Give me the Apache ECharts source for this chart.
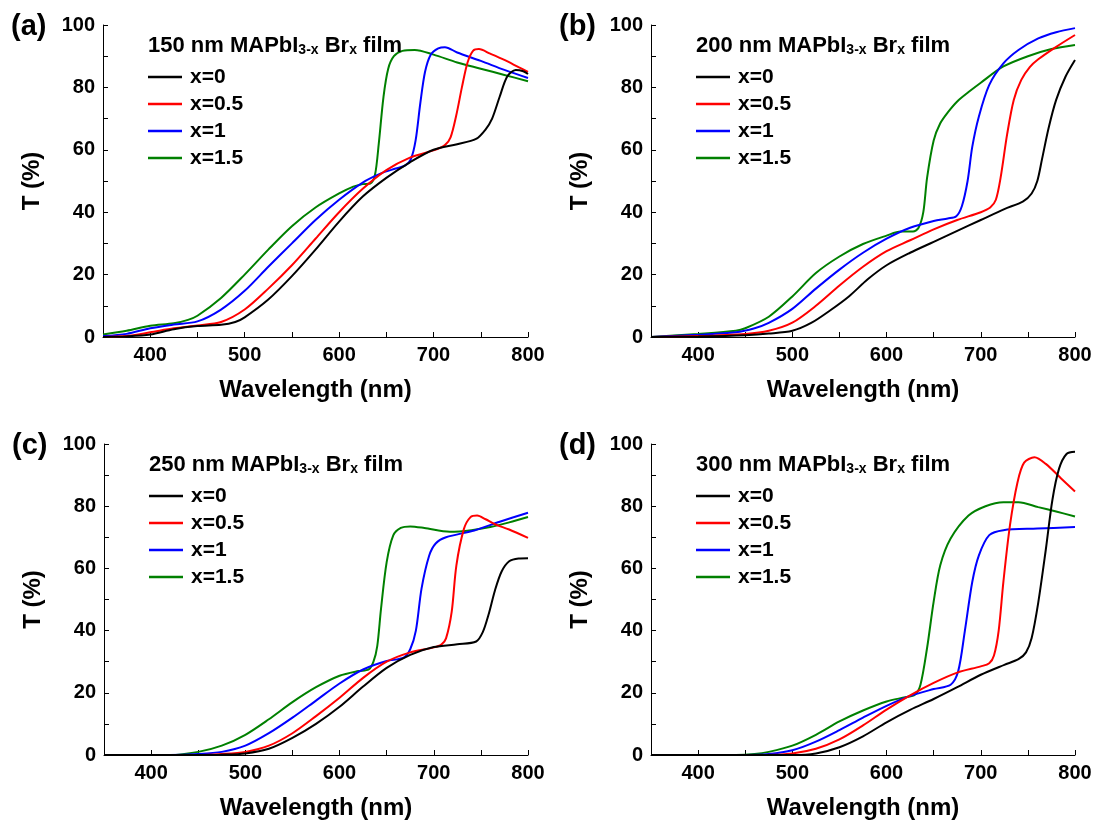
<!DOCTYPE html>
<html>
<head>
<meta charset="utf-8">
<script src="https://cdn.jsdelivr.net/npm/echarts@6/dist/echarts.min.js"></script>
<style>
html,body{margin:0;padding:0;background:#fff;}
#chart{width:1097px;height:827px;}
</style>
</head>
<body>
<div id="chart"></div>
<script>
// ---- data: [wavelength (nm), T (%)] ----
const seriesNames = ['x=0', 'x=0.5', 'x=1', 'x=1.5'];
const seriesColors = ['#000000', '#ff0000', '#0000ff', '#008000'];
const panelLabels = ['(a)', '(b)', '(c)', '(d)'];
const filmThickness = ['150', '200', '250', '300'];
const xTicks = [350, 400, 450, 500, 550, 600, 650, 700, 750, 800];
const yTicks = [0, 20, 40, 60, 80, 100];

// (a) 150 nm
const a_x0 = [[350,0],[375,0.2],[400,0.8],[425,2.5],[450,3.5],[475,3.9],[490,4.8],[500,6.3],[525,12],[550,19.5],[575,28],[600,37],[625,45],[650,51],[675,56],[700,60],[725,61.8],[745,63.5],[755,66.5],[762,70],[770,77],[778,83.5],[787,85.6],[795,85.2],[800,84.3]];
const a_x05 = [[350,0],[375,0.3],[400,1.5],[425,2.8],[450,3.7],[475,4.8],[500,8.8],[525,15.5],[550,23],[575,31.5],[600,40],[625,47.5],[650,53.5],[675,57.5],[700,59.8],[712,61.5],[718,64],[724,71],[730,80],[736,88],[742,91.8],[748,92.3],[760,90.8],[775,88.8],[790,86.5],[800,85]];
const a_x1 = [[350,0.3],[375,1],[400,2.8],[425,4],[450,5],[475,8.8],[500,14.8],[525,22.5],[550,30],[575,37.5],[600,44],[625,49.5],[645,52.5],[660,54],[670,55],[676,57],[681,63],[686,75],[691,85],[697,90.5],[705,92.5],[712,92.9],[725,91.2],[750,88.5],[775,85.6],[800,83]];
const a_x15 = [[350,0.8],[375,2],[400,3.6],[425,4.4],[440,5.5],[450,6.8],[475,12.5],[500,20],[525,28],[550,35.5],[575,41.5],[600,46],[615,48.2],[625,49],[633,49.2],[638,52],[642,62],[647,77],[652,86],[658,90],[667,91.7],[680,92],[700,90.5],[725,88],[750,86],[775,84],[800,82]];

// (b) 200 nm
const b_x0 = [[350,0],[400,0.2],[450,0.6],[475,1.1],[500,2],[520,4.5],[540,8.5],[560,13],[580,18.5],[600,23],[625,27],[650,30.5],[675,34],[700,37.5],[725,41],[745,43.5],[754,46],[760,50],[765,57],[772,67],[780,76],[790,83.5],[800,88.8]];
const b_x05 = [[350,0],[400,0.3],[450,1],[475,2],[500,4.6],[525,10],[550,16.5],[575,22.5],[600,27.5],[625,31],[650,34.5],[675,37.5],[700,40],[710,41.5],[716,44],[721,51],[728,65],[735,76],[743,82.4],[752,86.5],[761,89],[780,93],[800,96.8]];
const b_x1 = [[350,0],[400,0.7],[440,1.5],[460,2.8],[475,4.5],[500,9],[525,15.5],[550,21.6],[575,27],[600,31.5],[625,35],[650,37.2],[665,38],[674,38.7],[680,42],[686,50],[691,61],[698,70.7],[709,80.8],[724,87.7],[740,92],[761,95.7],[780,97.7],[800,99]];
const b_x15 = [[350,0],[400,1],[440,2],[450,2.8],[475,6.5],[500,13],[525,20.5],[550,25.8],[575,29.8],[600,32.5],[615,33.8],[628,33.8],[634,35],[639,40],[643,51],[650,63],[657,68.5],[665,72],[675,75.5],[687,78.5],[700,81.5],[724,86.7],[750,90],[775,92.3],[800,93.6]];

// (c) 250 nm
const c_x0 = [[350,0],[450,0],[475,0.1],[500,0.5],[525,2],[550,5.5],[575,10],[600,15.5],[625,22],[650,28],[675,32.2],[700,34.7],[725,35.6],[745,36.5],[752,39.5],[758,45],[765,53],[772,59],[780,62.3],[790,63.2],[800,63.3]];
const c_x05 = [[350,0],[450,0],[475,0.3],[500,1],[525,3],[550,7],[575,12.5],[600,18.4],[625,24.8],[650,30],[675,33],[700,34.6],[708,35.5],[713,37.5],[719,46],[724,61],[732,72.7],[739,76.5],[746,77],[755,75.8],[765,74.2],[780,72.5],[800,69.8]];
const c_x1 = [[350,0],[420,0],[450,0.3],[475,1],[500,3],[525,7],[550,12],[575,17.5],[600,23],[625,27.5],[650,30.2],[668,31.3],[675,34],[681,40],[687,53.5],[695,64],[702,68],[713,70],[743,72.2],[770,75],[800,77.9]];
const c_x15 = [[350,0],[420,0],[450,1],[475,3],[500,6.5],[525,11.5],[550,17],[575,21.8],[600,25.5],[620,27],[631,27.5],[636,30],[640,35],[644,47],[650,62],[657,70.6],[665,73],[675,73.5],[690,73],[717,71.8],[740,72.3],[760,73.3],[780,74.8],[800,76.5]];

// (d) 300 nm
const d_x0 = [[350,0],[500,0],[525,0.5],[550,2.5],[575,6],[600,10.5],[625,14.5],[650,18],[675,21.8],[700,25.8],[725,29],[740,30.8],[748,33],[754,37.6],[761,49],[769,66],[776,82],[783,92],[791,96.8],[800,97.5]];
const d_x05 = [[350,0],[470,0],[500,0.5],[525,2],[550,5],[575,9.5],[600,14.6],[625,19.2],[650,23.2],[675,26.5],[700,28.5],[709,29.5],[714,32],[719,40],[724,55.7],[731,73.9],[739,87.7],[746,94],[757,95.7],[769,93.6],[785,89],[800,84.7]];
const d_x1 = [[350,0],[450,0],[475,0.3],[500,1.5],[525,4.3],[550,8],[575,12],[600,15.8],[625,19],[650,21.2],[668,22.6],[676,26.9],[683,39.7],[691,55.7],[698,64.2],[709,70.7],[724,72.3],[760,72.8],[800,73.3]];
const d_x15 = [[350,0],[440,0],[460,0.3],[475,1],[500,3],[525,6.5],[550,10.8],[575,14.3],[600,17.2],[620,18.6],[630,19.4],[636,22.6],[643,34.4],[650,49.3],[657,61],[668,69.6],[687,77],[705,80],[724,81.3],[740,81.3],[761,79.7],[780,78.3],[800,76.7]];

const panelData = [
  [a_x0, a_x05, a_x1, a_x15],
  [b_x0, b_x05, b_x1, b_x15],
  [c_x0, c_x05, c_x1, c_x15],
  [d_x0, d_x05, d_x1, d_x15]
];

// ---- layout ----
const grids = [
  {left: 103, top: 25, width: 425, height: 312},
  {left: 651, top: 25, width: 424, height: 312},
  {left: 104, top: 444, width: 424, height: 311},
  {left: 651, top: 444, width: 424, height: 311}
];
const FONT = '"Liberation Sans", Arial, sans-serif';

const option = {
  animation: false,
  backgroundColor: '#ffffff',
  textStyle: {fontFamily: FONT},
  grid: grids.map(g => Object.assign({containLabel: false}, g)),
  title: [],
  legend: [],
  xAxis: [],
  yAxis: [],
  series: []
};

grids.forEach((g, i) => {
  option.xAxis.push({
    type: 'value', gridIndex: i,
    min: xTicks[0], max: xTicks[xTicks.length - 1], interval: 50,
    name: 'Wavelength (nm)', nameLocation: 'middle', nameGap: 41,
    nameTextStyle: {fontSize: 24, fontWeight: 'bold', color: '#000', fontFamily: FONT},
    axisLine: {show: true, onZero: false, lineStyle: {color: '#000', width: 1}},
    axisTick: {show: true, inside: true, length: 5, lineStyle: {color: '#000', width: 1}},
    axisLabel: {
      fontSize: 20, fontWeight: 'bold', color: '#000', margin: 8, fontFamily: FONT,
      formatter: v => (v % 100 === 0 ? String(v) : '')
    },
    splitLine: {show: false}
  });
  option.yAxis.push({
    type: 'value', gridIndex: i,
    min: yTicks[0], max: yTicks[yTicks.length - 1], interval: 10,
    name: 'T (%)', nameLocation: 'middle', nameGap: 59,
    nameTextStyle: {fontSize: 24, fontWeight: 'bold', color: '#000', fontFamily: FONT},
    axisLine: {show: true, onZero: false, lineStyle: {color: '#000', width: 1}},
    axisTick: {show: true, inside: true, length: 5, lineStyle: {color: '#000', width: 1}},
    axisLabel: {
      fontSize: 20, fontWeight: 'bold', color: '#000', margin: 8, fontFamily: FONT,
      formatter: v => (v % 20 === 0 ? String(v) : '')
    },
    splitLine: {show: false}
  });
  // panel label
  option.title.push({
    text: panelLabels[i],
    left: g.left - 92, top: g.top - 13, padding: 0,
    textStyle: {fontSize: 29, fontWeight: 'bold', color: '#000', fontFamily: FONT}
  });
  // film title with subscripts
  option.title.push({
    text: '{a|' + filmThickness[i] + ' nm MAPbI}{s|3-x}{a| Br}{s|x}{a| film}',
    left: g.left + 45, top: g.top - 8, padding: 0,
    textStyle: {
      fontFamily: FONT,
      rich: {
        a: {fontSize: 22, fontWeight: 'bold', color: '#000', lineHeight: 40, verticalAlign: 'bottom', fontFamily: FONT},
        s: {fontSize: 14, fontWeight: 'bold', color: '#000', lineHeight: 10, verticalAlign: 'bottom', fontFamily: FONT}
      }
    }
  });
  option.legend.push({
    orient: 'vertical',
    left: g.left + 45, top: g.top + 41,
    padding: 0,
    icon: 'rect',
    itemWidth: 34, itemHeight: 2.5, itemGap: 5,
    data: seriesNames,
    selectedMode: false,
    textStyle: {fontSize: 21, fontWeight: 'bold', color: '#000', lineHeight: 22, padding: [0, 0, 0, 3], fontFamily: FONT}
  });
  panelData[i].forEach((d, k) => {
    option.series.push({
      type: 'line', name: seriesNames[k],
      xAxisIndex: i, yAxisIndex: i,
      data: d, symbol: 'none', showSymbol: false,
      smooth: 0.3,
      lineStyle: {color: seriesColors[k], width: 2},
      itemStyle: {color: seriesColors[k]},
      z: 2 + (3 - k)
    });
  });
});

const chart = echarts.init(document.getElementById('chart'), null, {renderer: 'canvas'});
chart.setOption(option);
</script>
</body>
</html>
